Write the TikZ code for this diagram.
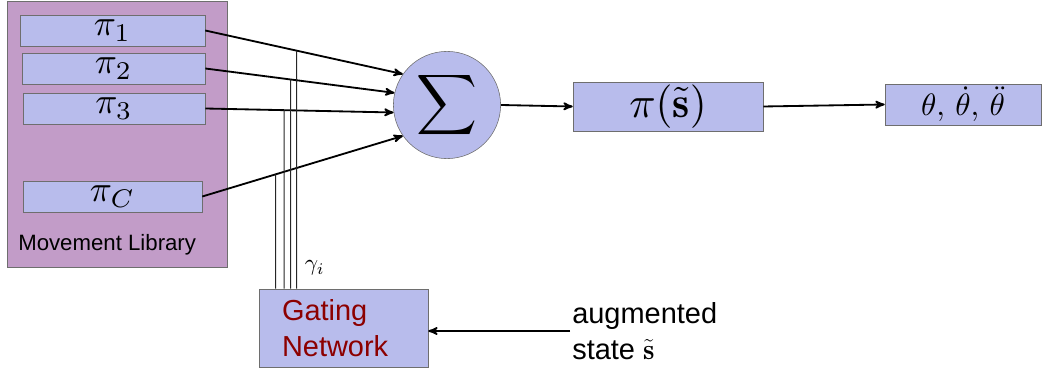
\RequirePackage{fix-cm}
\documentclass[tikz,border=0pt]{standalone}
\usepackage{amsmath}
\usepackage{graphicx}
\usepackage{fontspec}
\setsansfont{Liberation Sans}
\usetikzlibrary{arrows,positioning,calc}

\definecolor{boxblue}{RGB}{184,188,236}
\definecolor{libpurple}{RGB}{194,156,200}
\definecolor{gatered}{RGB}{140,0,0}
\definecolor{edgegray}{RGB}{110,110,110}
\newcommand{\scaledmath}[2]{\scalebox{#1}{$#2$}}

\begin{document}
\begin{tikzpicture}[node distance=1cm, auto]
\tikzset{
	    libbox/.style={rectangle, draw=edgegray, fill=libpurple, minimum width=5.5cm, minimum height=6.655cm},
	    pibox/.style={rectangle, draw=edgegray, fill=boxblue, inner sep=0pt, minimum height=0.775cm},
	    sumnode/.style={circle, draw=edgegray, fill=boxblue, inner sep=0pt, minimum size=2.68cm},
	    outbox/.style={rectangle, draw=edgegray, fill=boxblue, inner sep=0pt},
	    gatebox/.style={rectangle, draw=edgegray, fill=boxblue, align=left, text=gatered, inner xsep=0.575cm, text width=3.075cm, minimum height=1.95cm, font=\sffamily\fontsize{20.6}{26}\selectfont},
	    myarrow/.style={->, >=stealth', line width=1.3pt},
	    gammaline/.style={draw=black!85, line width=0.7pt}
	}
	\useasboundingbox (0,0) rectangle (26.05,9.3);

	% movement library
	\node[libbox] (lib) at (2.925,5.9525) {};
	\node[anchor=west, inner sep=0pt, font=\sffamily\fontsize{15.8}{18}\selectfont] (liblabel) at (0.45,3.175) {Movement Library};
	\node[pibox, minimum width=4.625cm] (pi1) at (2.8125,8.5375) {\scaledmath{2.6}{\pi_1}};
	\node[pibox, minimum width=4.575cm] (pi2) at (2.84,7.5875) {\scaledmath{2.6}{\pi_2}};
	\node[pibox, minimum width=4.55cm] (pi3) at (2.85,6.5875) {\scaledmath{2.6}{\pi_3}};
	\node[pibox, minimum width=4.475cm] (piC) at (2.8125,4.3875) {\scaledmath{2.6}{\pi_C}};

	% mixing
	\node[sumnode] (sum) at (11.175,6.675) {\scaledmath{3}{\displaystyle\sum}};
	\node[outbox, minimum width=4.75cm, minimum height=1.225cm] (pis) at (16.7,6.6375) {\scaledmath{3.1}{\pi(\tilde{\mathbf{s}})}};
	\node[outbox, minimum width=3.9cm, minimum height=1.025cm] (theta) at (24.075,6.6875) {\scaledmath{2.2}{\theta,\,\dot{\theta},\,\ddot{\theta}}};

	% gating
	\node[gatebox] (gate) at (8.5875,1.1) {Gating\\Network};
	\node[anchor=west, align=left, inner sep=0.05cm, font=\sffamily\fontsize{20.6}{26}\selectfont] (aug) at (14.25,1.025) {augmented\\state $\tilde{\mathbf{s}}$};
	\node (gamma) at (7.87,2.6) {\scaledmath{1.65}{\gamma_i}};

	\draw[myarrow] (pi1.east) -- (sum.145);
	\draw[myarrow] (pi2.east) -- (sum.167);
	\draw[myarrow] (pi3.east) -- (sum.188);
	\draw[myarrow] (piC.east) -- (sum.215);
	\draw[myarrow] (sum.east) -- (pis.west);
	\draw[myarrow] (pis.east) -- (theta.west);
	\draw[myarrow] (aug.west) -- (aug.west -| gate.east);

	% weights
	\foreach \i/\dx in {1/0.425, 2/0.6375, 3/0.8, 4/0.95} {
	    \coordinate (g\i) at ($(gate.north west)+(\dx,0)$);
	    \coordinate (u\i) at ($(g\i)+(0,7)$);
	}
	\draw[gammaline] (g1) -- (intersection of piC.east--sum.215 and g1--u1);
	\draw[gammaline] (g2) -- (intersection of pi3.east--sum.188 and g2--u2);
	\draw[gammaline] (g3) -- (intersection of pi2.east--sum.167 and g3--u3);
	\draw[gammaline] (g4) -- (intersection of pi1.east--sum.145 and g4--u4);
\end{tikzpicture}
\end{document}
